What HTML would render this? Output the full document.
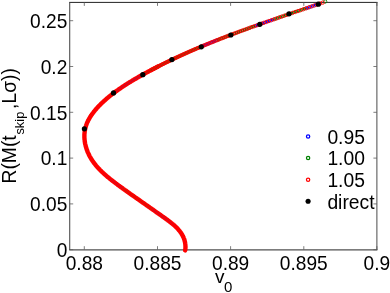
<!DOCTYPE html>
<html><head><meta charset="utf-8"><style>
html,body{margin:0;padding:0;background:#fff;}
body{width:390px;height:293px;overflow:hidden;}
svg{display:block;}
text{font-family:"Liberation Sans",sans-serif;font-size:20px;fill:#000;}
</style></head><body>
<svg width="390" height="293" viewBox="0 0 390 293">
<rect width="390" height="293" fill="#fff"/>
<g fill="none">
<path d="M69.2 2.4 H377.4" stroke="#222" stroke-width="1"/>
<path d="M69.2 249.8 H377.4" stroke="#505050" stroke-width="1.3"/>
<path d="M69.7 2 V250" stroke="#505050" stroke-width="1.1"/>
<path d="M376.9 2 V250" stroke="#4a4a4a" stroke-width="1"/>
<g stroke="#5c5c5c" stroke-width="0.8"><path d="M84.3 249.7 v-3.5 M84.3 2.4 v3.5"/><path d="M157.5 249.7 v-3.5 M157.5 2.4 v3.5"/><path d="M230.6 249.7 v-3.5 M230.6 2.4 v3.5"/><path d="M303.8 249.7 v-3.5 M303.8 2.4 v3.5"/><path d="M376.9 249.7 v-3.5 M376.9 2.4 v3.5"/><path d="M69.7 249.7 h3.5 M376.9 249.7 h-3.5"/><path d="M69.7 203.9 h3.5 M376.9 203.9 h-3.5"/><path d="M69.7 158.1 h3.5 M376.9 158.1 h-3.5"/><path d="M69.7 112.3 h3.5 M376.9 112.3 h-3.5"/><path d="M69.7 66.5 h3.5 M376.9 66.5 h-3.5"/><path d="M69.7 20.7 h3.5 M376.9 20.7 h-3.5"/></g>
</g>
<g style="mix-blend-mode:multiply">
<text transform="translate(84.3 270.1) scale(0.957 1)" text-anchor="middle">0.88</text><text transform="translate(157.5 270.1) scale(0.957 1)" text-anchor="middle">0.885</text><text transform="translate(230.6 270.1) scale(0.957 1)" text-anchor="middle">0.89</text><text transform="translate(303.8 270.1) scale(0.957 1)" text-anchor="middle">0.895</text><text transform="translate(376.9 270.1) scale(0.957 1)" text-anchor="middle">0.9</text>
<text transform="translate(67.3 256.9) scale(0.957 1)" text-anchor="end">0</text><text transform="translate(67.3 211.2) scale(0.957 1)" text-anchor="end">0.05</text><text transform="translate(67.3 165.4) scale(0.957 1)" text-anchor="end">0.1</text><text transform="translate(67.3 119.6) scale(0.957 1)" text-anchor="end">0.15</text><text transform="translate(67.3 73.8) scale(0.957 1)" text-anchor="end">0.2</text><text transform="translate(67.3 28.0) scale(0.957 1)" text-anchor="end">0.25</text>
<text x="215" y="282.8" style="font-size:19px">v</text><text x="223.9" y="292.1" style="font-size:15px">0</text>
<g transform="translate(15.8 183.5) rotate(-90)" style="font-size:19.3px"><text x="0" y="0" style="font-size:19.3px">R(M(t</text><text x="48.9" y="8.3" style="font-size:12.9px">skip</text><text x="74.6" y="0" style="font-size:19.3px">,Lσ))</text></g>
</g>
<path d="M185.1 250.4 L185.3 249.6 L185.4 249.0 L185.4 248.4 L185.4 247.9 L185.5 247.3 L185.5 246.7 L185.4 246.1 L185.4 245.6 L185.4 245.0 L185.3 244.4 L185.3 243.9 L185.2 243.4 L185.1 242.8 L185.0 242.3 L184.9 241.8 L184.8 241.3 L184.6 240.8 L184.5 240.2 L184.4 239.7 L184.2 239.3 L184.0 238.8 L183.8 238.3 L183.7 237.8 L183.5 237.3 L183.2 236.9 L183.0 236.4 L182.8 236.0 L182.6 235.5 L182.3 235.1 L182.1 234.6 L181.8 234.2 L181.6 233.8 L181.3 233.3 L181.0 232.9 L180.7 232.5 L180.4 232.1 L180.1 231.7 L179.8 231.3 L179.5 230.9 L179.2 230.5 L178.8 230.1 L178.5 229.7 L178.2 229.3 L177.8 228.9 L177.5 228.5 L177.1 228.1 L176.7 227.8 L176.4 227.4 L176.0 227.0 L175.6 226.7 L175.2 226.3 L174.9 226.0 L174.5 225.6 L174.1 225.3 L173.7 224.9 L173.3 224.6 L172.9 224.2 L172.5 223.9 L172.0 223.5 L171.6 223.2 L171.2 222.9 L170.8 222.5 L170.4 222.2 L169.9 221.9 L169.5 221.5 L169.1 221.2 L168.7 220.9 L168.2 220.6 L167.8 220.2 L167.3 219.9 L166.9 219.6 L166.5 219.3 L166.0 219.0 L165.6 218.6 L165.2 218.3 L164.7 218.0 L164.3 217.7 L163.8 217.4 L163.4 217.1 L163.0 216.8 L162.5 216.5 L162.1 216.2 L161.6 215.8 L161.2 215.5 L160.8 215.2 L160.3 214.9 L159.9 214.6 L159.5 214.3 L159.0 214.0 L158.6 213.7 L158.1 213.4 L157.7 213.1 L157.3 212.8 L156.8 212.5 L156.4 212.2 L156.0 211.9 L155.5 211.6 L155.1 211.3 L154.7 210.9 L154.2 210.6 L153.8 210.3 L153.4 210.0 L152.9 209.7 L152.5 209.4 L152.1 209.1 L151.7 208.8 L151.2 208.5 L150.8 208.2 L150.4 207.9 L149.9 207.6 L149.5 207.3 L149.1 207.0 L148.6 206.7 L148.2 206.4 L147.8 206.1 L147.4 205.8 L146.9 205.5 L146.5 205.2 L146.1 204.9 L145.6 204.6 L145.2 204.3 L144.8 204.0 L144.4 203.7 L143.9 203.4 L143.5 203.1 L143.1 202.8 L142.6 202.5 L142.2 202.2 L141.8 201.9 L141.4 201.6 L140.9 201.3 L140.5 201.0 L140.1 200.7 L139.6 200.4 L139.2 200.1 L138.8 199.8 L138.4 199.5 L137.9 199.2 L137.5 198.9 L137.1 198.6 L136.7 198.3 L136.2 198.0 L135.8 197.7 L135.4 197.4 L134.9 197.1 L134.5 196.8 L134.1 196.5 L133.7 196.2 L133.2 195.9 L132.8 195.6 L132.4 195.3 L131.9 195.0 L131.5 194.7 L131.1 194.4 L130.7 194.1 L130.2 193.8 L129.8 193.5 L129.4 193.2 L128.9 192.9 L128.5 192.6 L128.1 192.3 L127.7 192.0 L127.2 191.7 L126.8 191.3 L126.4 191.0 L125.9 190.7 L125.5 190.4 L125.1 190.1 L124.6 189.8 L124.2 189.5 L123.8 189.2 L123.3 188.9 L122.9 188.6 L122.5 188.2 L122.0 187.9 L121.6 187.6 L121.2 187.3 L120.7 187.0 L120.3 186.7 L119.9 186.3 L119.4 186.0 L119.0 185.7 L118.6 185.4 L118.1 185.1 L117.7 184.7 L117.3 184.4 L116.8 184.1 L116.4 183.8 L116.0 183.5 L115.5 183.1 L115.1 182.8 L114.7 182.5 L114.2 182.1 L113.8 181.8 L113.4 181.5 L112.9 181.2 L112.5 180.8 L112.1 180.5 L111.6 180.2 L111.2 179.8 L110.8 179.5 L110.4 179.1 L109.9 178.8 L109.5 178.5 L109.1 178.1 L108.7 177.8 L108.3 177.4 L107.8 177.1 L107.4 176.7 L107.0 176.4 L106.6 176.0 L106.2 175.7 L105.8 175.3 L105.4 175.0 L105.0 174.6 L104.6 174.2 L104.2 173.9 L103.8 173.5 L103.4 173.2 L103.0 172.8 L102.6 172.4 L102.2 172.1 L101.8 171.7 L101.4 171.3 L101.0 170.9 L100.7 170.6 L100.3 170.2 L99.9 169.8 L99.5 169.4 L99.2 169.0 L98.8 168.6 L98.4 168.2 L98.1 167.9 L97.7 167.5 L97.4 167.1 L97.0 166.7 L96.7 166.3 L96.3 165.9 L96.0 165.5 L95.7 165.0 L95.3 164.6 L95.0 164.2 L94.7 163.8 L94.4 163.4 L94.0 163.0 L93.7 162.5 L93.4 162.1 L93.1 161.7 L92.8 161.3 L92.5 160.8 L92.2 160.4 L91.9 160.0 L91.6 159.5 L91.4 159.1 L91.1 158.6 L90.8 158.2 L90.6 157.7 L90.3 157.3 L90.0 156.8 L89.8 156.4 L89.5 155.9 L89.3 155.4 L89.1 155.0 L88.8 154.5 L88.6 154.0 L88.4 153.5 L88.2 153.0 L88.0 152.6 L87.7 152.1 L87.5 151.6 L87.4 151.1 L87.2 150.6 L87.0 150.1 L86.8 149.6 L86.6 149.1 L86.5 148.6 L86.3 148.1 L86.2 147.6 L86.0 147.1 L85.9 146.6 L85.7 146.1 L85.6 145.6 L85.5 145.1 L85.4 144.6 L85.2 144.0 L85.1 143.5 L85.0 143.0 L84.9 142.5 L84.9 142.0 L84.8 141.5 L84.7 141.0 L84.7 140.4 L84.6 139.9 L84.5 139.4 L84.5 138.9 L84.5 138.4 L84.4 137.8 L84.4 137.3 L84.4 136.8 L84.4 136.3 L84.4 135.8 L84.4 135.3 L84.4 134.7 L84.4 134.2 L84.5 133.7 L84.5 133.2 L84.6 132.7 L84.6 132.2 L84.7 131.7 L84.7 131.2 L84.8 130.7 L84.9 130.2 L85.0 129.7 L85.1 129.2 L85.2 128.7 L85.3 128.2 L85.5 127.7 L85.6 127.2 L85.7 126.7 L85.9 126.2 L86.0 125.7 L86.2 125.2 L86.4 124.7 L86.6 124.2 L86.7 123.8 L86.9 123.3 L87.1 122.8 L87.3 122.3 L87.6 121.9 L87.8 121.4 L88.0 120.9 L88.2 120.4 L88.5 120.0 L88.7 119.5 L89.0 119.1 L89.2 118.6 L89.5 118.1 L89.8 117.7 L90.0 117.2 L90.3 116.8 L90.6 116.3 L90.9 115.9 L91.2 115.4 L91.5 115.0 L91.8 114.6 L92.1 114.1 L92.4 113.7 L92.7 113.3 L93.1 112.8 L93.4 112.4 L93.7 112.0 L94.0 111.5 L94.4 111.1 L94.7 110.7 L95.1 110.3 L95.4 109.9 L95.8 109.5 L96.1 109.0 L96.5 108.6 L96.8 108.2 L97.2 107.8 L97.6 107.4 L97.9 107.0 L98.3 106.6 L98.7 106.2 L99.0 105.8 L99.4 105.5 L99.8 105.1 L100.2 104.7 L100.6 104.3 L101.0 103.9 L101.3 103.5 L101.7 103.2 L102.1 102.8 L102.5 102.4 L102.9 102.1 L103.3 101.7 L103.7 101.3 L104.1 101.0 L104.5 100.6 L104.9 100.2 L105.3 99.9 L105.7 99.5 L106.1 99.2 L106.5 98.8 L106.9 98.5 L107.3 98.1 L107.7 97.8 L108.2 97.4 L108.6 97.1 L109.0 96.8 L109.4 96.4 L109.8 96.1 L110.2 95.8 L110.6 95.4 L111.1 95.1 L111.5 94.8 L111.9 94.4 L112.3 94.1 L112.8 93.8 L113.2 93.5 L113.6 93.1 L114.0 92.8 L114.4 92.5 L114.9 92.2 L115.3 91.9 L115.7 91.5 L116.2 91.2 L116.6 90.9 L117.0 90.6 L117.5 90.3 L117.9 90.0 L118.3 89.7 L118.8 89.4 L119.2 89.1 L119.6 88.8 L120.1 88.5 L120.5 88.2 L120.9 87.9 L121.4 87.6 L121.8 87.3 L122.2 87.0 L122.7 86.7 L123.1 86.4 L123.6 86.1 L124.0 85.8 L124.5 85.5 L124.9 85.2 L125.3 84.9 L125.8 84.7 L126.2 84.4 L126.7 84.1 L127.1 83.8 L127.6 83.5 L128.0 83.2 L128.5 83.0 L128.9 82.7 L129.4 82.4 L129.8 82.1 L130.3 81.9 L130.7 81.6 L131.2 81.3 L131.6 81.0 L132.1 80.8 L132.5 80.5 L133.0 80.2 L133.4 80.0 L133.9 79.7 L134.4 79.4 L134.8 79.1 L135.3 78.9 L135.7 78.6 L136.2 78.4 L136.6 78.1 L137.1 77.8 L137.5 77.6 L138.0 77.3 L138.5 77.0 L138.9 76.8 L139.4 76.5 L139.8 76.3 L140.3 76.0 L140.8 75.7 L141.2 75.5 L141.7 75.2 L142.1 75.0 L142.6 74.7 L143.1 74.5 L143.5 74.2 L144.0 73.9 L144.5 73.7 L144.9 73.4 L145.4 73.2 L145.9 72.9 L146.3 72.7 L146.8 72.4 L147.2 72.2 L147.7 71.9 L148.2 71.7 L148.6 71.4 L149.1 71.2 L149.6 70.9 L150.0 70.7 L150.5 70.4 L151.0 70.2 L151.4 69.9 L151.9 69.7 L152.4 69.4 L152.8 69.2 L153.3 69.0 L153.8 68.7 L154.2 68.5 L154.7 68.2 L155.2 68.0 L155.6 67.7 L156.1 67.5 L156.6 67.3 L157.1 67.0 L157.5 66.8 L158.0 66.5" fill="none" stroke="#f00" stroke-width="4.4" stroke-linecap="round" stroke-linejoin="round"/>
<g fill="none"><path d="M174.47 226.75L175.62 225.51" stroke="#2828a8" stroke-width="0.47" opacity="0.15"/><path d="M173.73 226.08L174.86 224.82" stroke="#2828a8" stroke-width="0.48" opacity="0.17"/><path d="M172.97 225.41L174.08 224.13" stroke="#2828a8" stroke-width="0.49" opacity="0.20"/><path d="M172.18 224.74L173.27 223.44" stroke="#2828a8" stroke-width="0.50" opacity="0.23"/><path d="M171.36 224.07L172.43 222.75" stroke="#2828a8" stroke-width="0.51" opacity="0.25"/><path d="M170.52 223.40L171.58 222.06" stroke="#2828a8" stroke-width="0.51" opacity="0.28"/><path d="M169.66 222.72L170.70 221.38" stroke="#2828a8" stroke-width="0.52" opacity="0.30"/><path d="M168.78 222.05L169.81 220.69" stroke="#2828a8" stroke-width="0.53" opacity="0.32"/><path d="M167.88 221.37L168.90 220.01" stroke="#2828a8" stroke-width="0.54" opacity="0.34"/><path d="M166.97 220.70L167.97 219.32" stroke="#2828a8" stroke-width="0.54" opacity="0.36"/><path d="M166.04 220.02L167.03 218.64" stroke="#2828a8" stroke-width="0.55" opacity="0.37"/><path d="M165.10 219.34L166.09 217.96" stroke="#2828a8" stroke-width="0.55" opacity="0.38"/><path d="M164.15 218.66L165.13 217.28" stroke="#2828a8" stroke-width="0.55" opacity="0.39"/><path d="M163.19 217.98L164.17 216.60" stroke="#2828a8" stroke-width="0.55" opacity="0.39"/><path d="M162.23 217.30L163.21 215.92" stroke="#2828a8" stroke-width="0.55" opacity="0.40"/><path d="M161.27 216.62L162.25 215.24" stroke="#2828a8" stroke-width="0.55" opacity="0.40"/><path d="M160.30 215.94L161.28 214.56" stroke="#2828a8" stroke-width="0.55" opacity="0.40"/><path d="M159.34 215.26L160.32 213.88" stroke="#2828a8" stroke-width="0.56" opacity="0.40"/><path d="M158.37 214.59L159.35 213.19" stroke="#2828a8" stroke-width="0.56" opacity="0.40"/><path d="M157.41 213.91L158.38 212.51" stroke="#2828a8" stroke-width="0.56" opacity="0.40"/><path d="M156.44 213.23L157.42 211.83" stroke="#2828a8" stroke-width="0.56" opacity="0.41"/><path d="M155.47 212.55L156.45 211.15" stroke="#2828a8" stroke-width="0.56" opacity="0.41"/><path d="M154.50 211.87L155.48 210.47" stroke="#2828a8" stroke-width="0.56" opacity="0.41"/><path d="M153.53 211.19L154.50 209.79" stroke="#2828a8" stroke-width="0.56" opacity="0.41"/><path d="M152.56 210.51L153.53 209.11" stroke="#2828a8" stroke-width="0.56" opacity="0.41"/><path d="M151.59 209.83L152.56 208.43" stroke="#2a6a1a" stroke-width="0.56" opacity="0.41"/><path d="M150.61 209.15L151.59 207.75" stroke="#2a6a1a" stroke-width="0.56" opacity="0.41"/><path d="M149.64 208.47L150.61 207.07" stroke="#2a6a1a" stroke-width="0.56" opacity="0.41"/><path d="M148.67 207.79L149.64 206.39" stroke="#2a6a1a" stroke-width="0.56" opacity="0.41"/><path d="M147.69 207.11L148.67 205.71" stroke="#2a6a1a" stroke-width="0.56" opacity="0.41"/><path d="M146.72 206.43L147.69 205.03" stroke="#2a6a1a" stroke-width="0.56" opacity="0.41"/><path d="M145.75 205.75L146.72 204.35" stroke="#2a6a1a" stroke-width="0.56" opacity="0.41"/><path d="M144.77 205.07L145.75 203.67" stroke="#5a3a10" stroke-width="0.56" opacity="0.41"/><path d="M143.80 204.39L144.77 202.99" stroke="#5a3a10" stroke-width="0.56" opacity="0.41"/><path d="M142.83 203.71L143.80 202.31" stroke="#5a3a10" stroke-width="0.56" opacity="0.41"/><path d="M141.85 203.03L142.83 201.63" stroke="#5a3a10" stroke-width="0.56" opacity="0.41"/><path d="M140.88 202.35L141.86 200.95" stroke="#5a3a10" stroke-width="0.56" opacity="0.41"/><path d="M139.91 201.67L140.88 200.27" stroke="#5a3a10" stroke-width="0.56" opacity="0.41"/><path d="M138.94 200.99L139.91 199.59" stroke="#5a3a10" stroke-width="0.56" opacity="0.41"/><path d="M137.97 200.31L138.95 198.91" stroke="#5a3a10" stroke-width="0.56" opacity="0.41"/><path d="M137.00 199.63L137.98 198.23" stroke="#5a3a10" stroke-width="0.56" opacity="0.40"/><path d="M136.03 198.95L137.01 197.55" stroke="#5a3a10" stroke-width="0.56" opacity="0.40"/><path d="M135.07 198.26L136.05 196.88" stroke="#5a3a10" stroke-width="0.55" opacity="0.40"/><path d="M134.10 197.58L135.08 196.20" stroke="#5a3a10" stroke-width="0.55" opacity="0.40"/><path d="M133.14 196.90L134.12 195.52" stroke="#5a3a10" stroke-width="0.55" opacity="0.40"/><path d="M132.18 196.22L133.16 194.84" stroke="#5a3a10" stroke-width="0.55" opacity="0.40"/><path d="M131.22 195.54L132.20 194.16" stroke="#5a3a10" stroke-width="0.55" opacity="0.39"/><path d="M130.26 194.86L131.24 193.48" stroke="#5a3a10" stroke-width="0.55" opacity="0.39"/><path d="M129.30 194.18L130.29 192.80" stroke="#5a3a10" stroke-width="0.55" opacity="0.39"/><path d="M128.35 193.50L129.33 192.12" stroke="#2a6a1a" stroke-width="0.55" opacity="0.39"/><path d="M127.39 192.82L128.38 191.44" stroke="#2a6a1a" stroke-width="0.55" opacity="0.38"/><path d="M126.44 192.14L127.43 190.76" stroke="#2a6a1a" stroke-width="0.55" opacity="0.38"/><path d="M125.49 191.46L126.48 190.08" stroke="#2a6a1a" stroke-width="0.55" opacity="0.38"/><path d="M124.55 190.78L125.54 189.40" stroke="#2a6a1a" stroke-width="0.55" opacity="0.38"/><path d="M123.60 190.10L124.60 188.72" stroke="#2a6a1a" stroke-width="0.55" opacity="0.37"/><path d="M122.66 189.42L123.66 188.04" stroke="#2a6a1a" stroke-width="0.55" opacity="0.37"/><path d="M121.72 188.74L122.72 187.36" stroke="#2828a8" stroke-width="0.54" opacity="0.37"/><path d="M120.78 188.06L121.78 186.68" stroke="#2828a8" stroke-width="0.54" opacity="0.37"/><path d="M119.85 187.38L120.85 186.00" stroke="#2828a8" stroke-width="0.54" opacity="0.36"/><path d="M118.92 186.70L119.92 185.32" stroke="#2828a8" stroke-width="0.54" opacity="0.36"/><path d="M117.99 186.01L119.00 184.65" stroke="#2828a8" stroke-width="0.54" opacity="0.35"/><path d="M117.06 185.33L118.07 183.97" stroke="#2828a8" stroke-width="0.54" opacity="0.35"/><path d="M116.14 184.65L117.16 183.29" stroke="#2828a8" stroke-width="0.54" opacity="0.34"/><path d="M115.23 183.97L116.25 182.61" stroke="#2828a8" stroke-width="0.53" opacity="0.33"/><path d="M114.33 183.29L115.35 181.93" stroke="#2828a8" stroke-width="0.53" opacity="0.33"/><path d="M113.43 182.61L114.46 181.25" stroke="#2828a8" stroke-width="0.53" opacity="0.32"/><path d="M112.54 181.92L113.57 180.58" stroke="#2828a8" stroke-width="0.52" opacity="0.31"/><path d="M111.66 181.24L112.70 179.90" stroke="#2828a8" stroke-width="0.52" opacity="0.29"/><path d="M110.78 180.56L111.84 179.22" stroke="#2828a8" stroke-width="0.52" opacity="0.28"/><path d="M109.92 179.87L110.98 178.55" stroke="#2828a8" stroke-width="0.51" opacity="0.27"/><path d="M109.07 179.19L110.14 177.87" stroke="#2828a8" stroke-width="0.51" opacity="0.26"/><path d="M108.23 178.51L109.31 177.19" stroke="#2828a8" stroke-width="0.50" opacity="0.25"/><path d="M107.41 177.82L108.50 176.52" stroke="#2828a8" stroke-width="0.50" opacity="0.23"/><path d="M106.59 177.14L107.69 175.84" stroke="#2828a8" stroke-width="0.49" opacity="0.22"/><path d="M105.79 176.45L106.90 175.17" stroke="#2828a8" stroke-width="0.49" opacity="0.20"/><path d="M105.00 175.77L106.12 174.49" stroke="#2828a8" stroke-width="0.49" opacity="0.19"/><path d="M104.23 175.08L105.36 173.82" stroke="#2828a8" stroke-width="0.48" opacity="0.17"/><path d="M103.47 174.40L104.61 173.14" stroke="#2828a8" stroke-width="0.48" opacity="0.16"/><path d="M102.72 173.71L103.88 172.47" stroke="#2828a8" stroke-width="0.47" opacity="0.14"/><path d="M102.72 101.07L103.88 102.31" stroke="#5a3a10" stroke-width="0.47" opacity="0.15"/><path d="M103.47 100.38L104.62 101.64" stroke="#5a3a10" stroke-width="0.48" opacity="0.16"/><path d="M104.24 99.70L105.37 100.96" stroke="#5a3a10" stroke-width="0.48" opacity="0.17"/><path d="M105.01 99.01L106.13 100.29" stroke="#5a3a10" stroke-width="0.49" opacity="0.19"/><path d="M105.80 98.33L106.91 99.61" stroke="#5a3a10" stroke-width="0.49" opacity="0.20"/><path d="M106.60 97.64L107.70 98.94" stroke="#5a3a10" stroke-width="0.49" opacity="0.22"/><path d="M107.42 96.96L108.50 98.26" stroke="#2a6a1a" stroke-width="0.50" opacity="0.23"/><path d="M108.24 96.27L109.32 97.59" stroke="#2a6a1a" stroke-width="0.50" opacity="0.24"/><path d="M109.08 95.59L110.15 96.91" stroke="#2a6a1a" stroke-width="0.51" opacity="0.26"/><path d="M109.93 94.91L110.99 96.23" stroke="#2a6a1a" stroke-width="0.51" opacity="0.27"/><path d="M110.80 94.22L111.85 95.56" stroke="#2a6a1a" stroke-width="0.52" opacity="0.29"/><path d="M111.67 93.54L112.71 94.88" stroke="#2a6a1a" stroke-width="0.52" opacity="0.30"/><path d="M112.56 92.85L113.59 94.21" stroke="#2a6a1a" stroke-width="0.53" opacity="0.31"/><path d="M113.46 92.17L114.48 93.53" stroke="#2a6a1a" stroke-width="0.53" opacity="0.33"/><path d="M114.38 91.49L115.39 92.85" stroke="#2828a8" stroke-width="0.54" opacity="0.34"/><path d="M115.30 90.80L116.31 92.18" stroke="#2828a8" stroke-width="0.54" opacity="0.36"/><path d="M116.24 90.12L117.24 91.50" stroke="#2828a8" stroke-width="0.55" opacity="0.37"/><path d="M117.19 89.44L118.18 90.82" stroke="#2828a8" stroke-width="0.55" opacity="0.39"/><path d="M118.16 88.75L119.14 90.15" stroke="#2828a8" stroke-width="0.56" opacity="0.40"/><path d="M119.14 88.07L120.11 89.47" stroke="#2828a8" stroke-width="0.56" opacity="0.42"/><path d="M120.13 87.39L121.09 88.79" stroke="#2828a8" stroke-width="0.57" opacity="0.44"/><path d="M121.14 86.71L122.09 88.11" stroke="#2828a8" stroke-width="0.57" opacity="0.45"/><path d="M122.15 86.02L123.10 87.44" stroke="#2828a8" stroke-width="0.58" opacity="0.47"/><path d="M123.19 85.34L124.12 86.76" stroke="#2828a8" stroke-width="0.58" opacity="0.48"/><path d="M124.23 84.66L125.16 86.08" stroke="#2828a8" stroke-width="0.59" opacity="0.50"/><path d="M125.29 83.97L126.21 85.41" stroke="#2828a8" stroke-width="0.59" opacity="0.51"/><path d="M126.36 83.29L127.27 84.73" stroke="#2828a8" stroke-width="0.60" opacity="0.53"/><path d="M127.44 82.61L128.35 84.05" stroke="#2828a8" stroke-width="0.60" opacity="0.54"/><path d="M128.54 81.93L129.43 83.37" stroke="#2828a8" stroke-width="0.61" opacity="0.56"/><path d="M129.65 81.24L130.54 82.70" stroke="#2828a8" stroke-width="0.61" opacity="0.58"/><path d="M130.77 80.56L131.65 82.02" stroke="#2828a8" stroke-width="0.62" opacity="0.59"/><path d="M131.90 79.88L132.78 81.34" stroke="#2828a8" stroke-width="0.62" opacity="0.60"/><path d="M133.05 79.20L133.91 80.66" stroke="#2828a8" stroke-width="0.63" opacity="0.60"/><path d="M134.21 78.52L135.07 79.98" stroke="#2828a8" stroke-width="0.63" opacity="0.60"/><path d="M135.37 77.83L136.23 79.31" stroke="#2828a8" stroke-width="0.64" opacity="0.60"/><path d="M136.55 77.15L137.40 78.63" stroke="#2828a8" stroke-width="0.64" opacity="0.60"/><path d="M137.74 76.47L138.59 77.95" stroke="#2828a8" stroke-width="0.65" opacity="0.60"/><path d="M138.94 75.79L139.78 77.27" stroke="#2828a8" stroke-width="0.65" opacity="0.60"/><path d="M140.15 75.11L140.98 76.59" stroke="#2a6a1a" stroke-width="0.65" opacity="0.60"/><path d="M141.37 74.43L142.20 75.91" stroke="#2a6a1a" stroke-width="0.66" opacity="0.60"/><path d="M142.60 73.75L143.42 75.23" stroke="#2a6a1a" stroke-width="0.66" opacity="0.60"/><path d="M143.84 73.06L144.65 74.56" stroke="#2a6a1a" stroke-width="0.66" opacity="0.60"/><path d="M145.08 72.38L145.89 73.88" stroke="#2a6a1a" stroke-width="0.67" opacity="0.60"/><path d="M146.33 71.70L147.14 73.20" stroke="#2a6a1a" stroke-width="0.67" opacity="0.60"/><path d="M147.60 71.02L148.40 72.52" stroke="#5a3a10" stroke-width="0.67" opacity="0.60"/><path d="M148.87 70.34L149.67 71.84" stroke="#5a3a10" stroke-width="0.68" opacity="0.60"/><path d="M150.15 69.66L150.94 71.16" stroke="#5a3a10" stroke-width="0.68" opacity="0.60"/><path d="M151.44 68.98L152.23 70.48" stroke="#5a3a10" stroke-width="0.69" opacity="0.60"/><path d="M152.73 68.30L153.52 69.80" stroke="#5a3a10" stroke-width="0.69" opacity="0.60"/><path d="M154.04 67.62L154.82 69.12" stroke="#5a3a10" stroke-width="0.69" opacity="0.60"/></g>
<g fill="none" stroke="#0000ff" stroke-width="1.1"><ellipse cx="202.19" cy="46.21" rx="1.2" ry="1.2"/><ellipse cx="203.72" cy="45.57" rx="1.2" ry="1.2"/><ellipse cx="205.27" cy="44.93" rx="1.2" ry="1.2"/><ellipse cx="206.84" cy="44.29" rx="1.2" ry="1.2"/><ellipse cx="208.42" cy="43.64" rx="1.2" ry="1.2"/><ellipse cx="210.01" cy="42.99" rx="1.2" ry="1.2"/><ellipse cx="211.62" cy="42.34" rx="1.2" ry="1.2"/><ellipse cx="213.24" cy="41.69" rx="1.2" ry="1.2"/><ellipse cx="214.88" cy="41.03" rx="1.2" ry="1.2"/><ellipse cx="216.54" cy="40.37" rx="1.2" ry="1.2"/><ellipse cx="255.57" cy="25.75" rx="1.2" ry="1.2"/><ellipse cx="257.87" cy="24.93" rx="1.2" ry="1.2"/><ellipse cx="260.20" cy="24.11" rx="1.2" ry="1.2"/><ellipse cx="262.58" cy="23.27" rx="1.2" ry="1.2"/><ellipse cx="264.99" cy="22.42" rx="1.2" ry="1.2"/><ellipse cx="267.45" cy="21.56" rx="1.2" ry="1.2"/><ellipse cx="269.94" cy="20.69" rx="1.2" ry="1.2"/><ellipse cx="272.48" cy="19.80" rx="1.2" ry="1.2"/><ellipse cx="307.26" cy="7.89" rx="1.2" ry="1.2"/><ellipse cx="310.02" cy="6.94" rx="1.2" ry="1.2"/><ellipse cx="312.79" cy="6.00" rx="1.2" ry="1.2"/><ellipse cx="315.57" cy="5.05" rx="1.2" ry="1.2"/></g><g fill="none" stroke="#008000" stroke-width="1.1"><ellipse cx="152.17" cy="69.55" rx="1.2" ry="1.2"/><ellipse cx="153.33" cy="68.94" rx="1.2" ry="1.2"/><ellipse cx="154.50" cy="68.33" rx="1.2" ry="1.2"/><ellipse cx="155.67" cy="67.73" rx="1.2" ry="1.2"/><ellipse cx="156.85" cy="67.12" rx="1.2" ry="1.2"/><ellipse cx="158.04" cy="66.51" rx="1.2" ry="1.2"/><ellipse cx="159.24" cy="65.90" rx="1.2" ry="1.2"/><ellipse cx="160.44" cy="65.30" rx="1.2" ry="1.2"/><ellipse cx="161.65" cy="64.69" rx="1.2" ry="1.2"/><ellipse cx="162.87" cy="64.08" rx="1.2" ry="1.2"/><ellipse cx="164.09" cy="63.47" rx="1.2" ry="1.2"/><ellipse cx="165.33" cy="62.87" rx="1.2" ry="1.2"/><ellipse cx="166.57" cy="62.26" rx="1.2" ry="1.2"/><ellipse cx="167.82" cy="61.65" rx="1.2" ry="1.2"/><ellipse cx="169.07" cy="61.04" rx="1.2" ry="1.2"/><ellipse cx="170.34" cy="60.43" rx="1.2" ry="1.2"/><ellipse cx="171.61" cy="59.83" rx="1.2" ry="1.2"/><ellipse cx="172.89" cy="59.22" rx="1.2" ry="1.2"/><ellipse cx="174.18" cy="58.61" rx="1.2" ry="1.2"/><ellipse cx="175.48" cy="58.00" rx="1.2" ry="1.2"/><ellipse cx="176.79" cy="57.39" rx="1.2" ry="1.2"/><ellipse cx="178.10" cy="56.78" rx="1.2" ry="1.2"/><ellipse cx="179.43" cy="56.17" rx="1.2" ry="1.2"/><ellipse cx="180.77" cy="55.56" rx="1.2" ry="1.2"/><ellipse cx="182.11" cy="54.94" rx="1.2" ry="1.2"/><ellipse cx="183.47" cy="54.33" rx="1.2" ry="1.2"/><ellipse cx="184.83" cy="53.72" rx="1.2" ry="1.2"/><ellipse cx="186.21" cy="53.10" rx="1.2" ry="1.2"/><ellipse cx="187.59" cy="52.48" rx="1.2" ry="1.2"/><ellipse cx="188.99" cy="51.87" rx="1.2" ry="1.2"/><ellipse cx="190.40" cy="51.25" rx="1.2" ry="1.2"/><ellipse cx="191.83" cy="50.62" rx="1.2" ry="1.2"/><ellipse cx="193.27" cy="50.00" rx="1.2" ry="1.2"/><ellipse cx="194.72" cy="49.37" rx="1.2" ry="1.2"/><ellipse cx="196.18" cy="48.75" rx="1.2" ry="1.2"/><ellipse cx="197.66" cy="48.11" rx="1.2" ry="1.2"/><ellipse cx="199.16" cy="47.48" rx="1.2" ry="1.2"/><ellipse cx="200.66" cy="46.85" rx="1.2" ry="1.2"/><ellipse cx="218.22" cy="39.71" rx="1.2" ry="1.2"/><ellipse cx="219.93" cy="39.04" rx="1.2" ry="1.2"/><ellipse cx="221.67" cy="38.36" rx="1.2" ry="1.2"/><ellipse cx="223.43" cy="37.67" rx="1.2" ry="1.2"/><ellipse cx="225.21" cy="36.98" rx="1.2" ry="1.2"/><ellipse cx="227.03" cy="36.29" rx="1.2" ry="1.2"/><ellipse cx="228.87" cy="35.58" rx="1.2" ry="1.2"/><ellipse cx="230.74" cy="34.87" rx="1.2" ry="1.2"/><ellipse cx="232.64" cy="34.15" rx="1.2" ry="1.2"/><ellipse cx="234.57" cy="33.43" rx="1.2" ry="1.2"/><ellipse cx="236.52" cy="32.70" rx="1.2" ry="1.2"/><ellipse cx="238.51" cy="31.96" rx="1.2" ry="1.2"/><ellipse cx="240.53" cy="31.21" rx="1.2" ry="1.2"/><ellipse cx="242.57" cy="30.46" rx="1.2" ry="1.2"/><ellipse cx="244.65" cy="29.70" rx="1.2" ry="1.2"/><ellipse cx="246.76" cy="28.93" rx="1.2" ry="1.2"/><ellipse cx="248.91" cy="28.15" rx="1.2" ry="1.2"/><ellipse cx="251.09" cy="27.36" rx="1.2" ry="1.2"/><ellipse cx="253.31" cy="26.56" rx="1.2" ry="1.2"/><ellipse cx="275.07" cy="18.91" rx="1.2" ry="1.2"/><ellipse cx="277.67" cy="18.00" rx="1.2" ry="1.2"/><ellipse cx="280.30" cy="17.10" rx="1.2" ry="1.2"/><ellipse cx="282.93" cy="16.19" rx="1.2" ry="1.2"/><ellipse cx="285.58" cy="15.29" rx="1.2" ry="1.2"/><ellipse cx="288.24" cy="14.37" rx="1.2" ry="1.2"/><ellipse cx="290.92" cy="13.46" rx="1.2" ry="1.2"/><ellipse cx="293.61" cy="12.54" rx="1.2" ry="1.2"/><ellipse cx="296.31" cy="11.62" rx="1.2" ry="1.2"/><ellipse cx="299.03" cy="10.69" rx="1.2" ry="1.2"/><ellipse cx="301.76" cy="9.76" rx="1.2" ry="1.2"/><ellipse cx="304.51" cy="8.82" rx="1.2" ry="1.2"/></g><g fill="none" stroke="#008000" stroke-width="0.9"><ellipse cx="325.20" cy="1.50" rx="1.62" ry="1.7"/></g><g fill="none" stroke="#ff0000" stroke-width="0.9"><ellipse cx="151.12" cy="70.11" rx="1.62" ry="1.7"/><ellipse cx="152.27" cy="69.50" rx="1.62" ry="1.7"/><ellipse cx="153.44" cy="68.89" rx="1.62" ry="1.7"/><ellipse cx="154.61" cy="68.28" rx="1.62" ry="1.7"/><ellipse cx="155.79" cy="67.67" rx="1.62" ry="1.7"/><ellipse cx="156.98" cy="67.06" rx="1.62" ry="1.7"/><ellipse cx="158.17" cy="66.45" rx="1.62" ry="1.7"/><ellipse cx="159.37" cy="65.84" rx="1.62" ry="1.7"/><ellipse cx="160.58" cy="65.23" rx="1.62" ry="1.7"/><ellipse cx="161.80" cy="64.62" rx="1.62" ry="1.7"/><ellipse cx="163.02" cy="64.00" rx="1.62" ry="1.7"/><ellipse cx="164.25" cy="63.39" rx="1.62" ry="1.7"/><ellipse cx="165.49" cy="62.78" rx="1.62" ry="1.7"/><ellipse cx="166.74" cy="62.17" rx="1.62" ry="1.7"/><ellipse cx="168.00" cy="61.56" rx="1.62" ry="1.7"/><ellipse cx="169.26" cy="60.95" rx="1.62" ry="1.7"/><ellipse cx="170.53" cy="60.34" rx="1.62" ry="1.7"/><ellipse cx="171.81" cy="59.73" rx="1.62" ry="1.7"/><ellipse cx="173.10" cy="59.12" rx="1.62" ry="1.7"/><ellipse cx="174.39" cy="58.51" rx="1.62" ry="1.7"/><ellipse cx="175.70" cy="57.90" rx="1.62" ry="1.7"/><ellipse cx="177.02" cy="57.28" rx="1.62" ry="1.7"/><ellipse cx="178.34" cy="56.67" rx="1.62" ry="1.7"/><ellipse cx="179.68" cy="56.05" rx="1.62" ry="1.7"/><ellipse cx="181.02" cy="55.44" rx="1.62" ry="1.7"/><ellipse cx="182.37" cy="54.82" rx="1.62" ry="1.7"/><ellipse cx="183.74" cy="54.21" rx="1.62" ry="1.7"/><ellipse cx="185.11" cy="53.59" rx="1.62" ry="1.7"/><ellipse cx="186.50" cy="52.97" rx="1.62" ry="1.7"/><ellipse cx="187.89" cy="52.35" rx="1.62" ry="1.7"/><ellipse cx="189.30" cy="51.73" rx="1.62" ry="1.7"/><ellipse cx="190.73" cy="51.10" rx="1.62" ry="1.7"/><ellipse cx="192.17" cy="50.48" rx="1.62" ry="1.7"/><ellipse cx="193.62" cy="49.85" rx="1.62" ry="1.7"/><ellipse cx="195.08" cy="49.22" rx="1.62" ry="1.7"/><ellipse cx="196.56" cy="48.59" rx="1.62" ry="1.7"/><ellipse cx="198.05" cy="47.95" rx="1.62" ry="1.7"/><ellipse cx="199.56" cy="47.31" rx="1.62" ry="1.7"/><ellipse cx="201.08" cy="46.67" rx="1.62" ry="1.7"/><ellipse cx="202.61" cy="46.03" rx="1.62" ry="1.7"/><ellipse cx="204.16" cy="45.39" rx="1.62" ry="1.7"/><ellipse cx="205.73" cy="44.74" rx="1.62" ry="1.7"/><ellipse cx="207.30" cy="44.09" rx="1.62" ry="1.7"/><ellipse cx="208.90" cy="43.44" rx="1.62" ry="1.7"/><ellipse cx="210.51" cy="42.79" rx="1.62" ry="1.7"/><ellipse cx="212.13" cy="42.14" rx="1.62" ry="1.7"/><ellipse cx="213.77" cy="41.48" rx="1.62" ry="1.7"/><ellipse cx="215.42" cy="40.82" rx="1.62" ry="1.7"/><ellipse cx="217.11" cy="40.15" rx="1.62" ry="1.7"/><ellipse cx="218.81" cy="39.48" rx="1.62" ry="1.7"/><ellipse cx="220.55" cy="38.80" rx="1.62" ry="1.7"/><ellipse cx="222.31" cy="38.11" rx="1.62" ry="1.7"/><ellipse cx="224.09" cy="37.42" rx="1.62" ry="1.7"/><ellipse cx="225.91" cy="36.72" rx="1.62" ry="1.7"/><ellipse cx="227.75" cy="36.01" rx="1.62" ry="1.7"/><ellipse cx="229.62" cy="35.30" rx="1.62" ry="1.7"/><ellipse cx="231.51" cy="34.58" rx="1.62" ry="1.7"/><ellipse cx="233.44" cy="33.85" rx="1.62" ry="1.7"/><ellipse cx="235.40" cy="33.12" rx="1.62" ry="1.7"/><ellipse cx="237.38" cy="32.38" rx="1.62" ry="1.7"/><ellipse cx="239.40" cy="31.63" rx="1.62" ry="1.7"/><ellipse cx="241.44" cy="30.87" rx="1.62" ry="1.7"/><ellipse cx="243.52" cy="30.11" rx="1.62" ry="1.7"/><ellipse cx="245.63" cy="29.34" rx="1.62" ry="1.7"/><ellipse cx="247.78" cy="28.56" rx="1.62" ry="1.7"/><ellipse cx="249.96" cy="27.77" rx="1.62" ry="1.7"/><ellipse cx="252.18" cy="26.97" rx="1.62" ry="1.7"/><ellipse cx="254.44" cy="26.16" rx="1.62" ry="1.7"/><ellipse cx="256.73" cy="25.34" rx="1.62" ry="1.7"/><ellipse cx="259.07" cy="24.51" rx="1.62" ry="1.7"/><ellipse cx="261.44" cy="23.67" rx="1.62" ry="1.7"/><ellipse cx="263.86" cy="22.82" rx="1.62" ry="1.7"/><ellipse cx="266.31" cy="21.95" rx="1.62" ry="1.7"/><ellipse cx="268.81" cy="21.08" rx="1.62" ry="1.7"/><ellipse cx="271.35" cy="20.20" rx="1.62" ry="1.7"/><ellipse cx="273.93" cy="19.30" rx="1.62" ry="1.7"/><ellipse cx="276.54" cy="18.40" rx="1.62" ry="1.7"/><ellipse cx="279.16" cy="17.49" rx="1.62" ry="1.7"/><ellipse cx="281.80" cy="16.58" rx="1.62" ry="1.7"/><ellipse cx="284.44" cy="15.67" rx="1.62" ry="1.7"/><ellipse cx="287.11" cy="14.76" rx="1.62" ry="1.7"/><ellipse cx="289.78" cy="13.85" rx="1.62" ry="1.7"/><ellipse cx="292.47" cy="12.93" rx="1.62" ry="1.7"/><ellipse cx="295.18" cy="12.00" rx="1.62" ry="1.7"/><ellipse cx="297.90" cy="11.08" rx="1.62" ry="1.7"/><ellipse cx="300.63" cy="10.15" rx="1.62" ry="1.7"/><ellipse cx="303.38" cy="9.21" rx="1.62" ry="1.7"/><ellipse cx="306.13" cy="8.27" rx="1.62" ry="1.7"/><ellipse cx="308.89" cy="7.33" rx="1.62" ry="1.7"/><ellipse cx="311.66" cy="6.39" rx="1.62" ry="1.7"/><ellipse cx="314.44" cy="5.44" rx="1.62" ry="1.7"/><ellipse cx="317.22" cy="4.49" rx="1.62" ry="1.7"/><ellipse cx="320.01" cy="3.53" rx="1.62" ry="1.7"/><ellipse cx="322.80" cy="2.57" rx="1.62" ry="1.7"/></g>
<g fill="#000"><circle cx="84.4" cy="128.8" r="2.6"/><circle cx="113.5" cy="92.9" r="2.6"/><circle cx="142.8" cy="74.7" r="2.6"/><circle cx="171.9" cy="59.6" r="2.6"/><circle cx="201.3" cy="46.8" r="2.6"/><circle cx="230.8" cy="35.0" r="2.6"/><circle cx="259.8" cy="24.3" r="2.6"/><circle cx="289.0" cy="13.8" r="2.6"/><circle cx="318.3" cy="4.2" r="2.6"/></g>
<g fill="none" stroke-width="1.25">
<circle cx="308.1" cy="136.4" r="1.65" stroke="#00f"/>
<circle cx="308.1" cy="158.0" r="1.65" stroke="#008000"/>
<circle cx="308.1" cy="179.8" r="1.65" stroke="#f00"/>
</g>
<circle cx="308.1" cy="201.2" r="2.55" fill="#000"/>
<g style="mix-blend-mode:multiply">
<text x="327.4" y="143.8" style="font-size:19.3px">0.95</text>
<text x="327.4" y="165.3" style="font-size:19.3px">1.00</text>
<text x="327.4" y="187.0" style="font-size:19.3px">1.05</text>
<text x="327.4" y="208.6" style="font-size:19.3px">direct</text>
</g>
</svg>
</body></html>
